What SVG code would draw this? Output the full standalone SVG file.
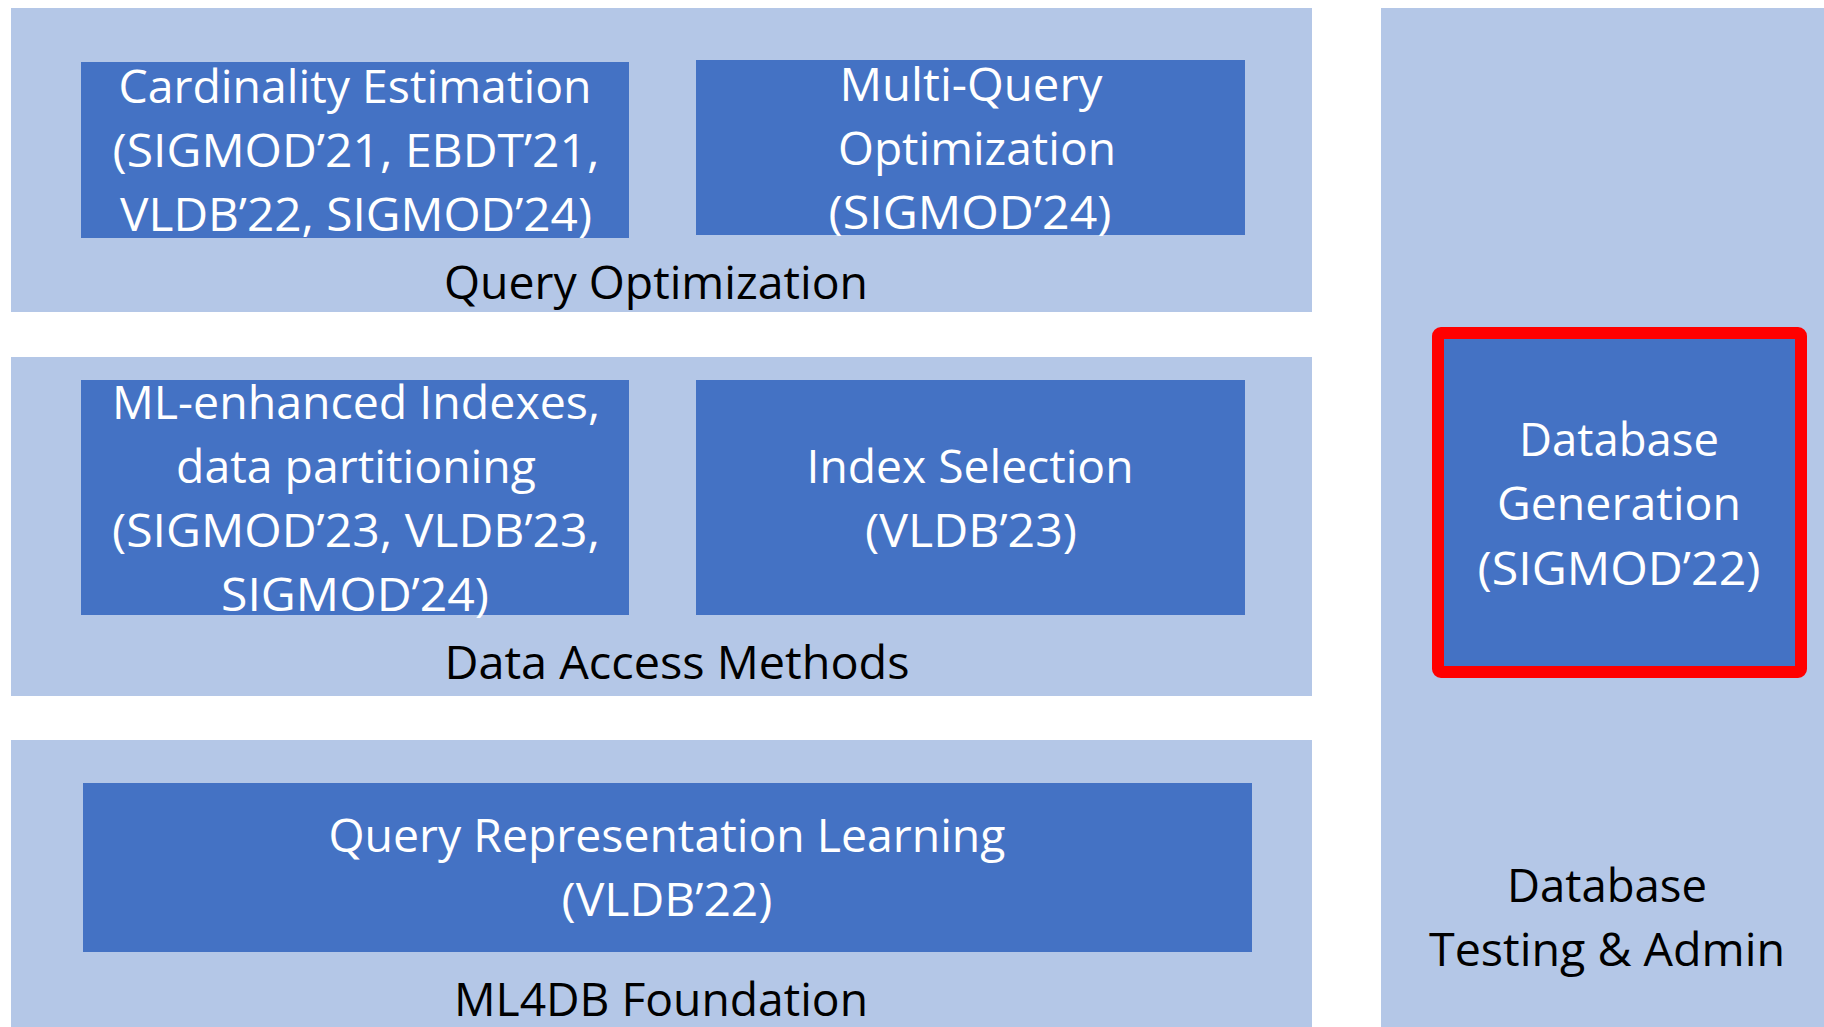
<svg xmlns="http://www.w3.org/2000/svg" width="1824" height="1027" viewBox="0 0 1824 1027">
<style>
.panel{fill:#B4C7E7}
.box{fill:#4472C4}
.wt{fill:#FFFFFF;font-family:"Open Sans","Noto Sans","Liberation Sans",sans-serif;font-size:46px;text-anchor:middle}
.bt{fill:#000000;font-family:"Open Sans","Noto Sans","Liberation Sans",sans-serif;font-size:46px;text-anchor:middle}
</style>
<rect width="1824" height="1027" fill="#FFFFFF"/>
<g id="panel-query-optimization">
<rect class="panel" x="11" y="8" width="1301" height="304"/>
<text class="bt" x="656" y="299" textLength="424" lengthAdjust="spacingAndGlyphs">Query Optimization</text>
</g>
<g id="panel-data-access">
<rect class="panel" x="11" y="357" width="1301" height="339"/>
<text class="bt" x="677" y="679" textLength="465" lengthAdjust="spacingAndGlyphs">Data Access Methods</text>
</g>
<g id="panel-foundation">
<rect class="panel" x="11" y="740" width="1301" height="287"/>
<text class="bt" x="661" y="1016" textLength="414" lengthAdjust="spacingAndGlyphs">ML4DB Foundation</text>
</g>
<g id="panel-testing">
<rect class="panel" x="1381" y="8" width="443" height="1019"/>
<text class="bt" x="1607" y="902" textLength="200" lengthAdjust="spacingAndGlyphs">Database</text>
<text class="bt" x="1607" y="966" textLength="356" lengthAdjust="spacingAndGlyphs">Testing &amp; Admin</text>
</g>
<g id="node-cardinality">
<rect class="box" x="81" y="62" width="548" height="176"/>
<text class="wt" x="355" y="103" textLength="473" lengthAdjust="spacingAndGlyphs">Cardinality Estimation</text>
<text class="wt" x="356" y="167" textLength="487" lengthAdjust="spacingAndGlyphs">(SIGMOD’21, EBDT’21,</text>
<text class="wt" x="356" y="231" textLength="472" lengthAdjust="spacingAndGlyphs">VLDB’22, SIGMOD’24)</text>
</g>
<g id="node-multiquery">
<rect class="box" x="696" y="60" width="549" height="175"/>
<text class="wt" x="971" y="101" textLength="263" lengthAdjust="spacingAndGlyphs">Multi-Query</text>
<text class="wt" x="977" y="165" textLength="278" lengthAdjust="spacingAndGlyphs">Optimization</text>
<text class="wt" x="970" y="229" textLength="283" lengthAdjust="spacingAndGlyphs">(SIGMOD’24)</text>
</g>
<g id="node-ml-indexes">
<rect class="box" x="81" y="380" width="548" height="235"/>
<text class="wt" x="356" y="419" textLength="488" lengthAdjust="spacingAndGlyphs">ML-enhanced Indexes,</text>
<text class="wt" x="356" y="483" textLength="360" lengthAdjust="spacingAndGlyphs">data partitioning</text>
<text class="wt" x="356" y="547" textLength="488" lengthAdjust="spacingAndGlyphs">(SIGMOD’23, VLDB’23,</text>
<text class="wt" x="355" y="611" textLength="268" lengthAdjust="spacingAndGlyphs">SIGMOD’24)</text>
</g>
<g id="node-index-selection">
<rect class="box" x="696" y="380" width="549" height="235"/>
<text class="wt" x="970" y="483" textLength="327" lengthAdjust="spacingAndGlyphs">Index Selection</text>
<text class="wt" x="971" y="547" textLength="212" lengthAdjust="spacingAndGlyphs">(VLDB’23)</text>
</g>
<g id="node-query-representation">
<rect class="box" x="83" y="783" width="1169" height="169"/>
<text class="wt" x="667" y="852" textLength="677" lengthAdjust="spacingAndGlyphs">Query Representation Learning</text>
<text class="wt" x="667" y="916" textLength="211" lengthAdjust="spacingAndGlyphs">(VLDB’22)</text>
</g>
<g id="node-database-generation">
<rect class="box" x="1438" y="333" width="363" height="339" rx="3" stroke="#FF0000" stroke-width="12"/>
<text class="wt" x="1619" y="456" textLength="200" lengthAdjust="spacingAndGlyphs">Database</text>
<text class="wt" x="1619" y="520" textLength="244" lengthAdjust="spacingAndGlyphs">Generation</text>
<text class="wt" x="1619" y="585" textLength="283" lengthAdjust="spacingAndGlyphs">(SIGMOD’22)</text>
</g>
<g id="connectors"></g>
</svg>
